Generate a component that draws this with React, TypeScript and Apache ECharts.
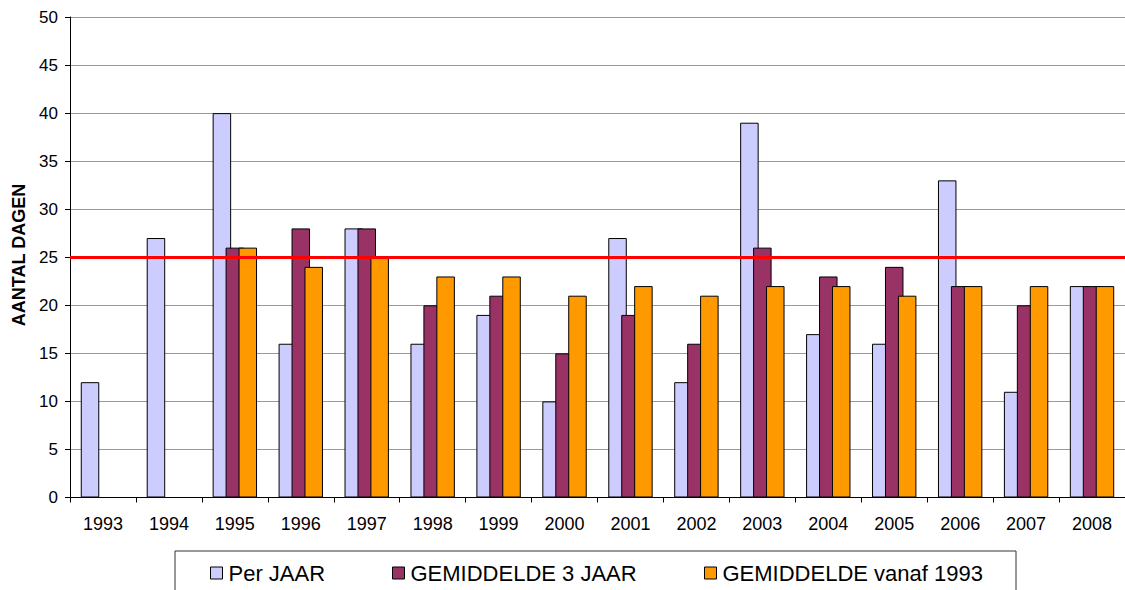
import React, { useEffect, useRef } from "react";
import * as echarts from "echarts";

const years = ["1993", "1994", "1995", "1996", "1997", "1998", "1999", "2000", "2001", "2002", "2003", "2004", "2005", "2006", "2007", "2008"];
const perJaar = [12, 27, 40, 16, 28, 16, 19, 10, 27, 12, 39, 17, 16, 33, 11, 22];
const gem3Jaar = [null, null, 26, 28, 28, 20, 21, 15, 19, 16, 26, 23, 24, 22, 20, 22];
const gemVanaf = [null, null, 26, 24, 25, 23, 23, 21, 22, 21, 22, 22, 21, 22, 22, 22];
const normLevel = 25;

const FONT = "'Liberation Sans', Arial, sans-serif";

export default function App() {
  const ref = useRef<HTMLDivElement>(null);
  useEffect(() => {
    if (!ref.current) return;
    const chart = echarts.init(ref.current, null, { renderer: "svg" });
    const barBase = {
      type: "bar",
      barWidth: 18.5,
      barGap: "-30%",
      itemStyle: { borderColor: "#000", borderWidth: 1 },
    };
    const legendBase = {
      orient: "horizontal",
      top: 562,
      itemWidth: 12,
      itemHeight: 12,
      itemGap: 0,
      itemStyle: { borderColor: "#000", borderWidth: 1 },
      textStyle: { fontSize: 22, color: "#000", fontFamily: FONT, padding: [0, 0, 0, 1] },
      icon: "rect",
      selectedMode: false,
      padding: 0,
    };
    chart.setOption({
      animation: false,
      backgroundColor: "#fff",
      textStyle: { fontFamily: FONT },
      grid: { left: 70, right: 0, top: 17, bottom: 92.5, containLabel: false },
      xAxis: {
        type: "category",
        data: years,
        axisLine: { lineStyle: { color: "#000", width: 1 } },
        axisTick: { show: true, length: 5, lineStyle: { color: "#000" } },
        axisLabel: { fontSize: 18, color: "#000", margin: 17, fontFamily: FONT },
      },
      yAxis: {
        type: "value",
        min: 0,
        max: 50,
        interval: 5,
        axisLine: { show: true, lineStyle: { color: "#000", width: 1 } },
        axisTick: { show: true, length: 5, lineStyle: { color: "#000" } },
        axisLabel: { fontSize: 17, color: "#000", margin: 12, fontFamily: FONT },
        splitLine: { show: true, lineStyle: { color: "#9a9a9a", width: 1 } },
      },
      legend: [
        { ...legendBase, left: 210, data: ["Per JAAR"] },
        { ...legendBase, left: 392, data: ["GEMIDDELDE 3 JAAR"] },
        { ...legendBase, left: 704, data: ["GEMIDDELDE vanaf 1993"] },
      ],
      graphic: [
        {
          type: "rect",
          shape: { x: 175, y: 551, width: 841, height: 60 },
          style: { fill: "none", stroke: "#333", lineWidth: 1 },
          silent: true,
        },
        {
          type: "text",
          x: 18.5,
          y: 255,
          rotation: Math.PI / 2,
          style: {
            text: "AANTAL DAGEN",
            fontSize: 18,
            fontWeight: "bold",
            fontFamily: FONT,
            fill: "#000",
            textAlign: "center",
            textVerticalAlign: "middle",
          },
        },
      ],
      series: [
        { ...barBase, name: "Per JAAR", data: perJaar, itemStyle: { color: "#ccccff", borderColor: "#000", borderWidth: 1 } },
        { ...barBase, name: "GEMIDDELDE 3 JAAR", data: gem3Jaar, itemStyle: { color: "#993366", borderColor: "#000", borderWidth: 1 } },
        {
          ...barBase,
          name: "GEMIDDELDE vanaf 1993",
          data: gemVanaf,
          itemStyle: { color: "#ff9900", borderColor: "#000", borderWidth: 1 },
          markLine: {
            silent: true,
            symbol: "none",
            label: { show: false },
            lineStyle: { color: "#ff0000", width: 3, type: "solid" },
            data: [{ yAxis: normLevel }],
          },
        },
      ],
    });
    return () => chart.dispose();
  }, []);
  return <div ref={ref} style={{ position: "fixed", left: 0, top: 0, width: 1125, height: 590 }} />;
}
